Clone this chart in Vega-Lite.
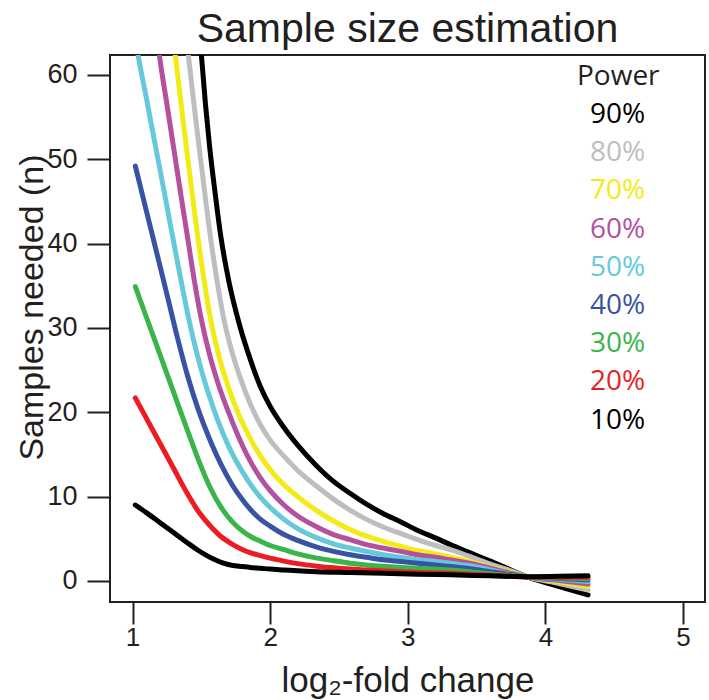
{
  "$schema": "https://vega.github.io/schema/vega-lite/v6.json",
  "width": 595,
  "height": 547,
  "autosize": "none",
  "padding": {"left": 110, "top": 55, "right": 4, "bottom": 98},
  "background": "white",
  "config": {
    "view": {"stroke": "#231f20", "strokeWidth": 2},
    "font": "Liberation Sans"
  },
  "title": {
    "text": "Sample size estimation",
    "font": "Liberation Sans",
    "fontSize": 41,
    "fontWeight": "normal",
    "color": "#231f20",
    "anchor": "middle",
    "offset": 4
  },
  "data": {
    "values": [
      {"p":"90%","x":1.49,"y":64.5},{"p":"90%","x":1.50,"y":62.4},{"p":"90%","x":1.53,"y":56.5},{"p":"90%","x":1.56,"y":51.5},{"p":"90%","x":1.60,"y":46.0},{"p":"90%","x":1.64,"y":41.0},{"p":"90%","x":1.70,"y":35.5},{"p":"90%","x":1.78,"y":30.2},{"p":"90%","x":1.855,"y":26.3},{"p":"90%","x":1.93,"y":23.0},{"p":"90%","x":2.0,"y":20.7},{"p":"90%","x":2.1,"y":18.2},{"p":"90%","x":2.2,"y":16.1},{"p":"90%","x":2.34,"y":13.6},{"p":"90%","x":2.46,"y":11.8},{"p":"90%","x":2.58,"y":10.4},{"p":"90%","x":2.7,"y":9.1},{"p":"90%","x":2.82,"y":8.0},{"p":"90%","x":2.95,"y":7.0},{"p":"90%","x":3.07,"y":6.0},{"p":"90%","x":3.2,"y":5.1},{"p":"90%","x":3.31,"y":4.3},{"p":"90%","x":3.45,"y":3.35},{"p":"90%","x":3.6,"y":2.35},{"p":"90%","x":3.75,"y":1.3},{"p":"90%","x":3.87,"y":0.47},{"p":"90%","x":4.0,"y":-0.2},{"p":"90%","x":4.15,"y":-0.9},{"p":"90%","x":4.31,"y":-1.66},
      {"p":"80%","x":1.39,"y":64.5},{"p":"80%","x":1.405,"y":62.4},{"p":"80%","x":1.45,"y":56.0},{"p":"80%","x":1.49,"y":50.6},{"p":"80%","x":1.53,"y":45.3},{"p":"80%","x":1.56,"y":41.5},{"p":"80%","x":1.61,"y":36.0},{"p":"80%","x":1.66,"y":31.3},{"p":"80%","x":1.72,"y":27.3},{"p":"80%","x":1.78,"y":24.2},{"p":"80%","x":1.855,"y":21.0},{"p":"80%","x":1.93,"y":18.5},{"p":"80%","x":2.0,"y":16.7},{"p":"80%","x":2.1,"y":14.8},{"p":"80%","x":2.2,"y":13.1},{"p":"80%","x":2.34,"y":11.2},{"p":"80%","x":2.46,"y":9.7},{"p":"80%","x":2.58,"y":8.4},{"p":"80%","x":2.7,"y":7.3},{"p":"80%","x":2.82,"y":6.4},{"p":"80%","x":2.95,"y":5.6},{"p":"80%","x":3.07,"y":4.9},{"p":"80%","x":3.2,"y":4.2},{"p":"80%","x":3.31,"y":3.7},{"p":"80%","x":3.45,"y":2.9},{"p":"80%","x":3.6,"y":2.0},{"p":"80%","x":3.75,"y":1.2},{"p":"80%","x":3.87,"y":0.47},{"p":"80%","x":4.1,"y":-0.3},{"p":"80%","x":4.31,"y":-1.07},
      {"p":"70%","x":1.295,"y":64.5},{"p":"70%","x":1.31,"y":62.4},{"p":"70%","x":1.37,"y":54.2},{"p":"70%","x":1.42,"y":47.6},{"p":"70%","x":1.47,"y":41.3},{"p":"70%","x":1.52,"y":35.6},{"p":"70%","x":1.57,"y":30.8},{"p":"70%","x":1.63,"y":26.5},{"p":"70%","x":1.70,"y":22.8},{"p":"70%","x":1.78,"y":19.4},{"p":"70%","x":1.855,"y":16.9},{"p":"70%","x":1.93,"y":14.8},{"p":"70%","x":2.0,"y":13.2},{"p":"70%","x":2.1,"y":11.4},{"p":"70%","x":2.2,"y":10.0},{"p":"70%","x":2.34,"y":8.3},{"p":"70%","x":2.46,"y":7.1},{"p":"70%","x":2.58,"y":6.1},{"p":"70%","x":2.7,"y":5.3},{"p":"70%","x":2.82,"y":4.7},{"p":"70%","x":2.95,"y":4.1},{"p":"70%","x":3.07,"y":3.6},{"p":"70%","x":3.2,"y":3.2},{"p":"70%","x":3.31,"y":2.8},{"p":"70%","x":3.45,"y":2.3},{"p":"70%","x":3.6,"y":1.6},{"p":"70%","x":3.75,"y":1.0},{"p":"70%","x":3.87,"y":0.47},{"p":"70%","x":4.1,"y":-0.1},{"p":"70%","x":4.31,"y":-0.67},
      {"p":"60%","x":1.18,"y":64.5},{"p":"60%","x":1.195,"y":62.4},{"p":"60%","x":1.25,"y":56.5},{"p":"60%","x":1.30,"y":51.2},{"p":"60%","x":1.35,"y":45.9},{"p":"60%","x":1.40,"y":40.7},{"p":"60%","x":1.45,"y":35.5},{"p":"60%","x":1.50,"y":31.0},{"p":"60%","x":1.56,"y":26.8},{"p":"60%","x":1.63,"y":23.0},{"p":"60%","x":1.70,"y":19.9},{"p":"60%","x":1.8,"y":16.0},{"p":"60%","x":1.855,"y":14.2},{"p":"60%","x":1.93,"y":12.2},{"p":"60%","x":2.0,"y":10.7},{"p":"60%","x":2.1,"y":9.0},{"p":"60%","x":2.2,"y":7.7},{"p":"60%","x":2.34,"y":6.4},{"p":"60%","x":2.46,"y":5.5},{"p":"60%","x":2.58,"y":4.9},{"p":"60%","x":2.7,"y":4.3},{"p":"60%","x":2.82,"y":3.9},{"p":"60%","x":2.95,"y":3.5},{"p":"60%","x":3.07,"y":3.1},{"p":"60%","x":3.2,"y":2.8},{"p":"60%","x":3.31,"y":2.5},{"p":"60%","x":3.45,"y":2.1},{"p":"60%","x":3.6,"y":1.5},{"p":"60%","x":3.75,"y":0.9},{"p":"60%","x":3.87,"y":0.47},{"p":"60%","x":4.1,"y":0.05},{"p":"60%","x":4.31,"y":-0.36},
      {"p":"50%","x":1.02,"y":64.5},{"p":"50%","x":1.04,"y":62.4},{"p":"50%","x":1.1,"y":57.3},{"p":"50%","x":1.16,"y":52.1},{"p":"50%","x":1.22,"y":47.0},{"p":"50%","x":1.28,"y":41.8},{"p":"50%","x":1.33,"y":37.5},{"p":"50%","x":1.38,"y":33.3},{"p":"50%","x":1.44,"y":28.8},{"p":"50%","x":1.5,"y":25.0},{"p":"50%","x":1.56,"y":21.8},{"p":"50%","x":1.62,"y":19.0},{"p":"50%","x":1.7,"y":15.9},{"p":"50%","x":1.8,"y":12.9},{"p":"50%","x":1.855,"y":11.5},{"p":"50%","x":1.93,"y":9.9},{"p":"50%","x":2.0,"y":8.7},{"p":"50%","x":2.1,"y":7.3},{"p":"50%","x":2.2,"y":6.2},{"p":"50%","x":2.34,"y":5.1},{"p":"50%","x":2.46,"y":4.4},{"p":"50%","x":2.58,"y":3.9},{"p":"50%","x":2.7,"y":3.5},{"p":"50%","x":2.82,"y":3.1},{"p":"50%","x":2.95,"y":2.8},{"p":"50%","x":3.07,"y":2.5},{"p":"50%","x":3.2,"y":2.3},{"p":"50%","x":3.31,"y":2.1},{"p":"50%","x":3.45,"y":1.8},{"p":"50%","x":3.6,"y":1.3},{"p":"50%","x":3.75,"y":0.8},{"p":"50%","x":3.87,"y":0.47},{"p":"50%","x":4.1,"y":0.2},{"p":"50%","x":4.31,"y":-0.08},
      {"p":"40%","x":1.02,"y":49.2},{"p":"40%","x":1.1,"y":43.9},{"p":"40%","x":1.2,"y":37.3},{"p":"40%","x":1.26,"y":33.3},{"p":"40%","x":1.33,"y":28.6},{"p":"40%","x":1.4,"y":24.3},{"p":"40%","x":1.48,"y":20.2},{"p":"40%","x":1.56,"y":16.8},{"p":"40%","x":1.64,"y":13.9},{"p":"40%","x":1.72,"y":11.5},{"p":"40%","x":1.8,"y":9.6},{"p":"40%","x":1.855,"y":8.5},{"p":"40%","x":1.93,"y":7.3},{"p":"40%","x":2.0,"y":6.5},{"p":"40%","x":2.1,"y":5.5},{"p":"40%","x":2.2,"y":4.8},{"p":"40%","x":2.34,"y":4.0},{"p":"40%","x":2.46,"y":3.5},{"p":"40%","x":2.58,"y":3.1},{"p":"40%","x":2.7,"y":2.8},{"p":"40%","x":2.82,"y":2.5},{"p":"40%","x":2.95,"y":2.3},{"p":"40%","x":3.07,"y":2.1},{"p":"40%","x":3.2,"y":1.9},{"p":"40%","x":3.31,"y":1.7},{"p":"40%","x":3.45,"y":1.45},{"p":"40%","x":3.6,"y":1.1},{"p":"40%","x":3.75,"y":0.75},{"p":"40%","x":3.87,"y":0.47},{"p":"40%","x":4.1,"y":0.3},{"p":"40%","x":4.31,"y":0.12},
      {"p":"30%","x":1.02,"y":34.9},{"p":"30%","x":1.1,"y":31.3},{"p":"30%","x":1.2,"y":26.8},{"p":"30%","x":1.3,"y":22.3},{"p":"30%","x":1.4,"y":17.8},{"p":"30%","x":1.48,"y":14.3},{"p":"30%","x":1.56,"y":11.2},{"p":"30%","x":1.64,"y":8.8},{"p":"30%","x":1.72,"y":7.1},{"p":"30%","x":1.8,"y":5.9},{"p":"30%","x":1.855,"y":5.3},{"p":"30%","x":1.93,"y":4.7},{"p":"30%","x":2.0,"y":4.2},{"p":"30%","x":2.1,"y":3.7},{"p":"30%","x":2.2,"y":3.2},{"p":"30%","x":2.34,"y":2.7},{"p":"30%","x":2.46,"y":2.4},{"p":"30%","x":2.58,"y":2.1},{"p":"30%","x":2.7,"y":1.9},{"p":"30%","x":2.82,"y":1.75},{"p":"30%","x":2.95,"y":1.6},{"p":"30%","x":3.07,"y":1.5},{"p":"30%","x":3.2,"y":1.4},{"p":"30%","x":3.31,"y":1.3},{"p":"30%","x":3.45,"y":1.1},{"p":"30%","x":3.6,"y":0.85},{"p":"30%","x":3.75,"y":0.65},{"p":"30%","x":3.87,"y":0.47},{"p":"30%","x":4.1,"y":0.37},{"p":"30%","x":4.31,"y":0.27},
      {"p":"20%","x":1.02,"y":21.7},{"p":"20%","x":1.1,"y":19.3},{"p":"20%","x":1.2,"y":16.3},{"p":"20%","x":1.3,"y":13.3},{"p":"20%","x":1.4,"y":10.3},{"p":"20%","x":1.48,"y":8.2},{"p":"20%","x":1.56,"y":6.6},{"p":"20%","x":1.64,"y":5.3},{"p":"20%","x":1.72,"y":4.4},{"p":"20%","x":1.8,"y":3.7},{"p":"20%","x":1.855,"y":3.35},{"p":"20%","x":1.93,"y":3.0},{"p":"20%","x":2.0,"y":2.7},{"p":"20%","x":2.1,"y":2.35},{"p":"20%","x":2.2,"y":2.05},{"p":"20%","x":2.34,"y":1.75},{"p":"20%","x":2.46,"y":1.55},{"p":"20%","x":2.58,"y":1.4},{"p":"20%","x":2.7,"y":1.3},{"p":"20%","x":2.82,"y":1.2},{"p":"20%","x":2.95,"y":1.1},{"p":"20%","x":3.07,"y":1.0},{"p":"20%","x":3.2,"y":0.95},{"p":"20%","x":3.31,"y":0.9},{"p":"20%","x":3.45,"y":0.8},{"p":"20%","x":3.6,"y":0.68},{"p":"20%","x":3.75,"y":0.57},{"p":"20%","x":3.87,"y":0.47},{"p":"20%","x":4.1,"y":0.46},{"p":"20%","x":4.31,"y":0.44},
      {"p":"10%","x":1.02,"y":9.0},{"p":"10%","x":1.1,"y":8.1},{"p":"10%","x":1.2,"y":6.9},{"p":"10%","x":1.3,"y":5.7},{"p":"10%","x":1.4,"y":4.5},{"p":"10%","x":1.47,"y":3.7},{"p":"10%","x":1.54,"y":3.0},{"p":"10%","x":1.6,"y":2.5},{"p":"10%","x":1.66,"y":2.1},{"p":"10%","x":1.72,"y":1.85},{"p":"10%","x":1.8,"y":1.7},{"p":"10%","x":1.855,"y":1.6},{"p":"10%","x":1.93,"y":1.5},{"p":"10%","x":2.0,"y":1.4},{"p":"10%","x":2.1,"y":1.3},{"p":"10%","x":2.2,"y":1.2},{"p":"10%","x":2.34,"y":1.1},{"p":"10%","x":2.58,"y":1.0},{"p":"10%","x":2.82,"y":0.9},{"p":"10%","x":3.07,"y":0.8},{"p":"10%","x":3.31,"y":0.72},{"p":"10%","x":3.6,"y":0.6},{"p":"10%","x":3.87,"y":0.5},{"p":"10%","x":4.1,"y":0.55},{"p":"10%","x":4.31,"y":0.6}
    ]
  },
  "mark": {"type": "line", "strokeWidth": 5, "strokeCap": "round", "strokeJoin": "round", "interpolate": "monotone", "clip": true},
  "encoding": {
    "x": {
      "field": "x", "type": "quantitative",
      "scale": {"domain": [0.836, 5.16], "nice": false, "zero": false},
      "axis": {
        "title": "log₂-fold change",
        "values": [1, 2, 3, 4, 5],
        "grid": false, "domain": false,
        "tickSize": 22, "tickWidth": 2, "tickColor": "#231f20",
        "labelFont": "Liberation Sans", "labelFontSize": 26, "labelColor": "#231f20", "labelPadding": 0,
        "titleFont": "Liberation Sans", "titleFontSize": 35, "titleFontWeight": "normal", "titleColor": "#231f20", "titlePadding": 13
      }
    },
    "y": {
      "field": "y", "type": "quantitative",
      "scale": {"domain": [-2.5, 62.37], "nice": false, "zero": false},
      "axis": {
        "title": "Samples needed (n)",
        "values": [0, 10, 20, 30, 40, 50, 60],
        "grid": false, "domain": false,
        "tickSize": 23, "tickWidth": 2, "tickColor": "#231f20",
        "labelFont": "Liberation Sans", "labelFontSize": 27, "labelColor": "#231f20", "labelPadding": 10,
        "titleFont": "Liberation Sans", "titleFontSize": 34, "titleFontWeight": "normal", "titleColor": "#231f20",
        "titleX": -68, "titleY": 252, "titleBaseline": "alphabetic", "titleAngle": 270
      }
    },
    "color": {
      "field": "p", "type": "nominal",
      "scale": {
        "domain": ["90%", "80%", "70%", "60%", "50%", "40%", "30%", "20%", "10%"],
        "range": ["#000000", "#bcbec0", "#f5eb14", "#b5509f", "#66c9d9", "#3953a4", "#3ab54a", "#ed1c24", "#000000"]
      },
      "legend": {
        "title": "Power",
        "orient": "none",
        "legendX": 467,
        "legendY": 8,
        "padding": 0,
        "titleFont": "Open Sans", "titleFontSize": 28, "titleFontWeight": "normal", "titleColor": "#231f20", "titlePadding": 10,
        "labelFont": "Open Sans", "labelFontSize": 28, "labelOffset": -15,
        "symbolSize": 0, "symbolStrokeWidth": 0, "symbolOpacity": 0, "symbolType": "circle",
        "rowPadding": 10.2,
        "encode": {"labels": {"update": {"fill": {"scale": "color", "field": "value"}}}}
      }
    }
  }
}
